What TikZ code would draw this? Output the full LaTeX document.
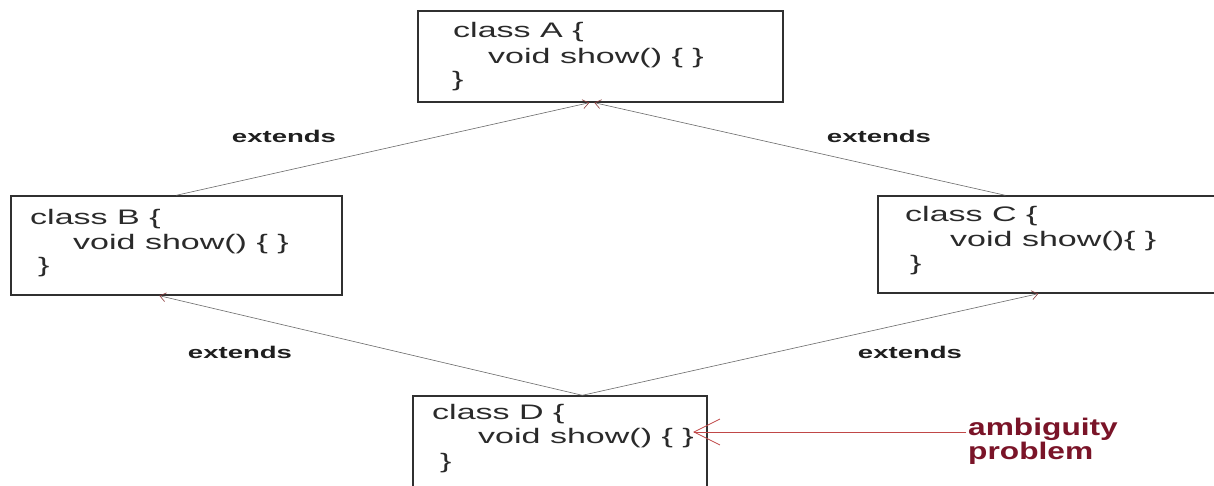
\documentclass[tikz,border=0pt]{standalone}
\usepackage{fontspec}
\setmainfont{Liberation Sans}[FakeStretch=1.62]
\newfontfamily\notefont{Liberation Sans}[FakeStretch=1.32]
\usetikzlibrary{arrows.meta,calc}
\definecolor{ink}{HTML}{2A2A2A}
\definecolor{frame}{HTML}{303030}
\definecolor{wire}{HTML}{6A6A6A}
\definecolor{tipred}{HTML}{8A3A3A}
\definecolor{warn}{HTML}{7A1428}
\definecolor{warnline}{HTML}{C04848}
\begin{document}
\begin{tikzpicture}[x=1pt,y=-1pt,
  classbox/.style={draw=frame, line width=1.4pt, inner sep=0pt, fill=white},
  code/.style={anchor=west, inner sep=0pt, text=ink, font=\fontsize{21}{24}\selectfont},
  rel/.style={text=black!88, font=\fontsize{17}{20}\selectfont\bfseries},
  note/.style={anchor=base west, inner sep=0pt, text=warn, font=\notefont\fontsize{24}{26}\selectfont\bfseries},
  inherit/.style={draw=wire, line width=0.6pt, -{Straight Barb[length=6pt,width=9pt,color=tipred]}}
]
\useasboundingbox (0,0) rectangle (1214,486);
\clip (0,0) rectangle (1214,486);
\fill[white] (0,0) rectangle (1214,486);

% class boxes
\node[classbox, minimum width=365pt, minimum height=91pt] (A) at (600.5,56.5) {};
\node[classbox, minimum width=331pt, minimum height=99pt] (B) at (176.5,245.5) {};
\node[classbox, minimum width=362pt, minimum height=97pt] (C) at (1059,244.5) {};
\node[classbox, minimum width=294pt, minimum height=124pt] (D) at (560,458) {};

% class bodies
\node[code] (a1) at (453,32) {class A \{};
\node[code] (a2) at (488,58) {void show() \{ \}};
\node[code] (a3) at (452,81) {\}};

\node[code] (b1) at (30,219) {class B \{};
\node[code] (b2) at (73,244) {void show() \{ \}};
\node[code] (b3) at (38,267) {\}};

\node[code] (c1) at (905,216) {class C \{};
\node[code] (c2) at (950,241) {void show()\{ \}};
\node[code] (c3) at (910,265) {\}};

\node[code] (d1) at (432,414) {class D \{};
\node[code] (d2) at (478,438) {void show() \{ \}};
\node[code] (d3) at (440,463) {\}};

% attachment points on the box edges
\coordinate (bUp)   at ($(B.north west)+(166,0)$);
\coordinate (bDown) at ($(B.south west)+(149,0)$);
\coordinate (cUp)   at ($(C.north west)+(128,0)$);
\coordinate (cDown) at ($(C.south west)+(161,0)$);
\coordinate (aL)    at ($(A.south west)+(172,0)$);
\coordinate (aR)    at ($(A.south west)+(177,0)$);
\coordinate (dUp)   at ($(D.north west)+(170,0)$);

% inheritance links
\draw[inherit] (bUp) -- (aL);
\draw[inherit] (cUp) -- (aR);
\draw[inherit] (dUp) -- (bDown);
\draw[inherit] (dUp) -- (cDown);

% link labels
\node[rel] (e1) at (284,136) {extends};
\node[rel] (e2) at (879,136) {extends};
\node[rel] (e3) at (240,352) {extends};
\node[rel] (e4) at (910,352) {extends};

% ambiguity note
\node[note] (amb1) at (968,435) {ambiguity};
\node[note] (amb2) at (968,459) {problem};
\coordinate (ambStart) at (966,432);
\coordinate (ambTip) at (693,432);
\draw[warnline, line width=0.8pt, -{Straight Barb[length=26pt,width=26pt]}] (ambStart) -- (ambTip);
\end{tikzpicture}
\end{document}
